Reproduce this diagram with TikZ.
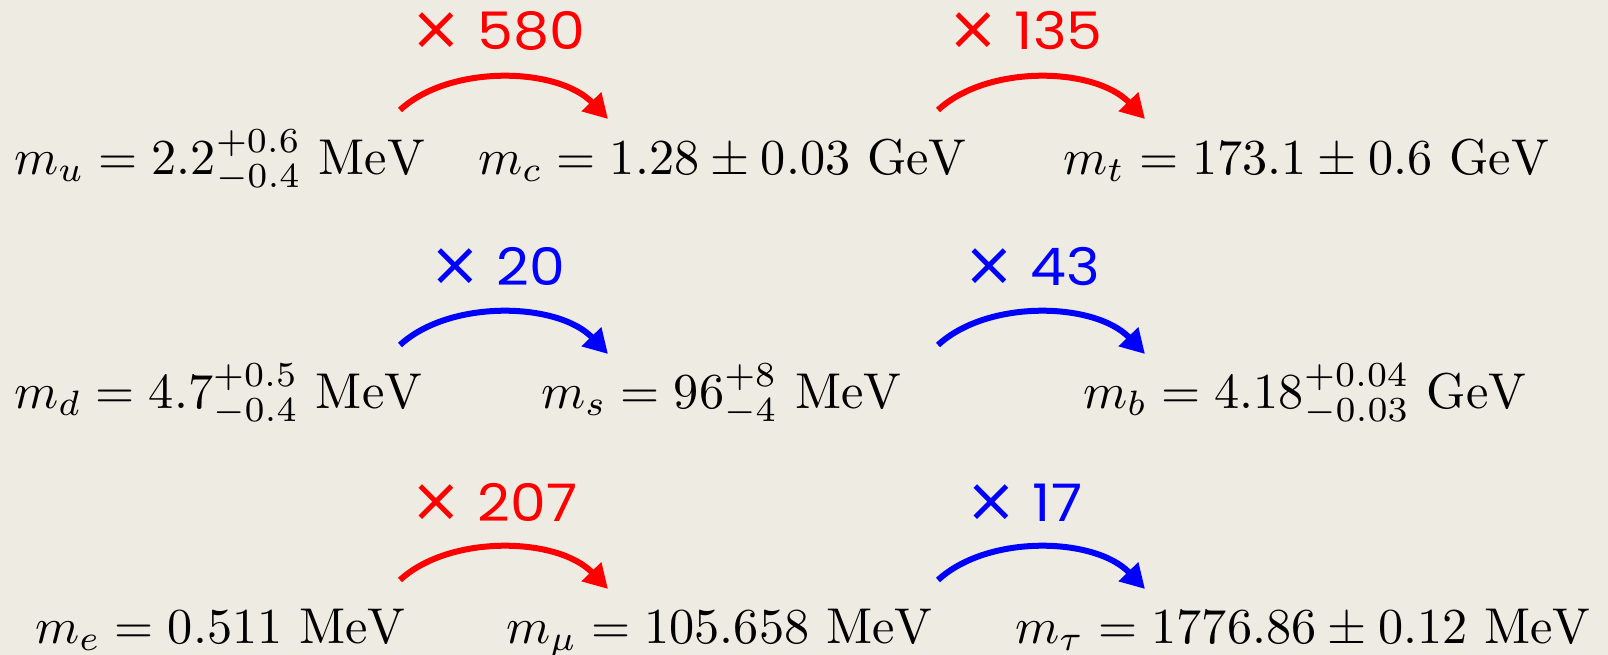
\documentclass[tikz,border=0pt]{standalone}
\usepackage{fontspec}
\usepackage{graphicx}
\newfontfamily\labfont[Numbers=Monospaced]{Poppins}
\newfontfamily\symfont{DejaVu Sans}
\usetikzlibrary{arrows.meta}
\definecolor{bg}{HTML}{EEEBE3}
\newcommand{\tms}{{\symfont\fontsize{62}{64}\selectfont ×}\hspace{16bp}}
\newcommand{\factor}[1]{\tms\scalebox{1.1}[1]{#1}}
\newcommand{\massfml}[1]{\scalebox{5.05}{$#1$}}
\begin{document}
\begin{tikzpicture}[x=1bp,y=-1bp,
  mass/.style={anchor=base west,inner sep=0pt,font=\fontsize{10}{12}\selectfont},
  fac/.style={anchor=base west,inner sep=0pt,font=\labfont\fontsize{52}{60}\selectfont},
  jump/.style={line width=6bp,-{Triangle[length=24bp,width=26bp]}},
]
\fill[bg] (0,0) rectangle (1608,655);
\useasboundingbox (0,0) rectangle (1608,655);
% masses
\node[mass] (mu) at (14,174) {\massfml{m_u = 2.2^{+0.6}_{-0.4}\ \mathrm{MeV}}};
\node[mass] (mc) at (478,174) {\massfml{m_c = 1.28\pm0.03\ \mathrm{GeV}}};
\node[mass] (mt) at (1063,174) {\massfml{m_t = 173.1\pm0.6\ \mathrm{GeV}}};
\node[mass] (md) at (14,408) {\massfml{m_d = 4.7^{+0.5}_{-0.4}\ \mathrm{MeV}}};
\node[mass] (ms) at (541,408) {\massfml{m_s = 96^{+8}_{-4}\ \mathrm{MeV}}};
\node[mass] (mb) at (1083,408) {\massfml{m_b = 4.18^{+0.04}_{-0.03}\ \mathrm{GeV}}};
\node[mass] (me) at (35,643) {\massfml{m_e = 0.511\ \mathrm{MeV}}};
\node[mass] (mmu) at (506,643) {\massfml{m_\mu = 105.658\ \mathrm{MeV}}};
\node[mass] (mtau) at (1015,643) {\massfml{m_\tau = 1776.86\pm0.12\ \mathrm{MeV}}};
% factors
\node[fac,red] (f1) at (410,50) {\factor{580}};
\node[fac,red] (f2) at (947,50) {\factor{135}};
\node[fac,blue] (f3) at (429,285) {\factor{20}};
\node[fac,blue] (f4) at (963,285) {\factor{43}};
\node[fac,red] (f5) at (410,521) {\factor{207}};
\node[fac,blue] (f6) at (965,521) {\factor{17}};
% arrow ends
\coordinate (a1s) at (400,110); \coordinate (a1e) at (608,119);
\coordinate (a2s) at (938,110); \coordinate (a2e) at (1145,119);
\coordinate (a3s) at (400,345); \coordinate (a3e) at (608,354);
\coordinate (a4s) at (938,345); \coordinate (a4e) at (1145,354);
\coordinate (a5s) at (400,580); \coordinate (a5e) at (608,589);
\coordinate (a6s) at (938,580); \coordinate (a6e) at (1145,589);
\draw[jump,red]  (a1s) .. controls ++(50,-46) and ++(-50,-52) .. (a1e);
\draw[jump,red]  (a2s) .. controls ++(50,-46) and ++(-50,-52) .. (a2e);
\draw[jump,blue] (a3s) .. controls ++(50,-46) and ++(-50,-52) .. (a3e);
\draw[jump,blue] (a4s) .. controls ++(50,-46) and ++(-50,-52) .. (a4e);
\draw[jump,red]  (a5s) .. controls ++(50,-46) and ++(-50,-52) .. (a5e);
\draw[jump,blue] (a6s) .. controls ++(50,-46) and ++(-50,-52) .. (a6e);
\end{tikzpicture}
\end{document}
